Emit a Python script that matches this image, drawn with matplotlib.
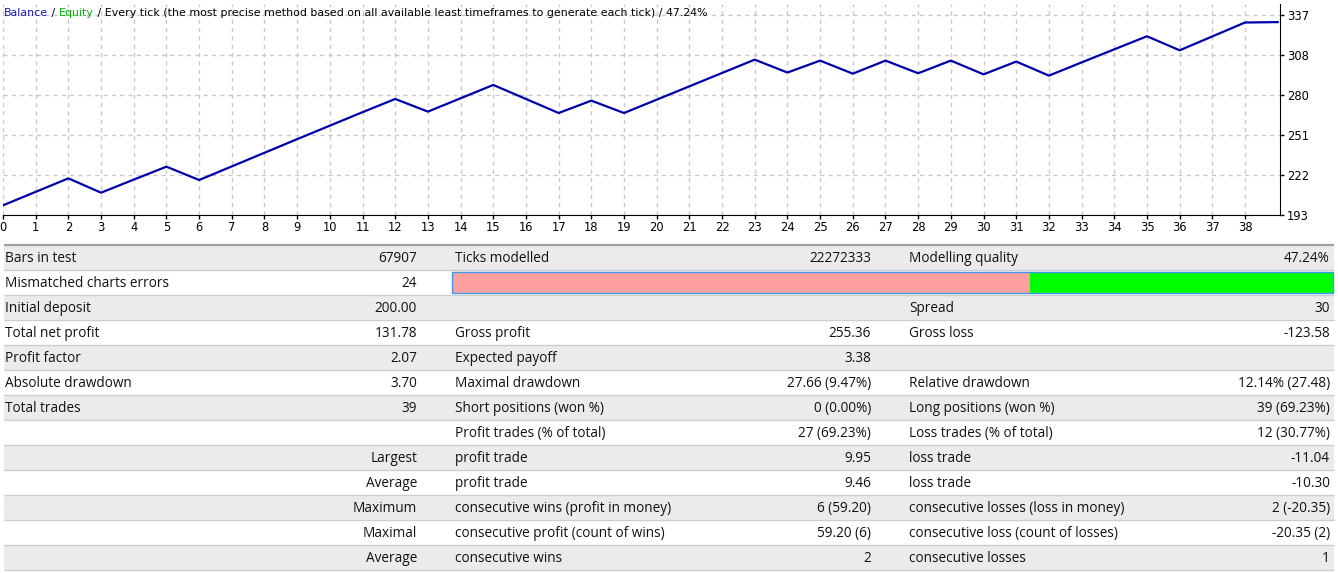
import matplotlib.pyplot as plt
import numpy as np

# Balance after each closed trade
trade_no = list(range(40))
balance = [200.0, 209.7, 219.4, 209.1, 218.5, 227.8, 218.2, 228.0, 237.8, 247.6,
           257.3, 267.0, 276.5, 267.4, 277.0, 286.6, 276.5, 266.4, 275.3, 266.4,
           276.0, 285.6, 295.2, 304.8, 295.5, 304.1, 294.7, 304.1, 295.0, 304.1,
           294.2, 303.4, 293.3, 302.8, 312.2, 321.6, 311.5, 321.5, 331.5, 331.78]
x_tick_labels = [str(i) for i in range(39)]
y_tick_labels = ['193', '222', '251', '280', '308', '337']
y_low, y_high = 193.4, 336.9

title_parts = ['Balance', ' / ', 'Equity',
               ' / Every tick (the most precise method based on all available least timeframes to generate each tick) / 47.24%']
title_colors = ['#1414b4', '#000000', '#00b400', '#000000']

# Report table: label / value for each of the three column groups
col1_label = ['Bars in test', 'Mismatched charts errors', 'Initial deposit', 'Total net profit',
              'Profit factor', 'Absolute drawdown', 'Total trades', '', '', '', '', '', '']
col1_value = ['67907', '24', '200.00', '131.78', '2.07', '3.70', '39', '',
              'Largest', 'Average', 'Maximum', 'Maximal', 'Average']
col2_label = ['Ticks modelled', '', '', 'Gross profit', 'Expected payoff', 'Maximal drawdown',
              'Short positions (won %)', 'Profit trades (% of total)', 'profit trade', 'profit trade',
              'consecutive wins (profit in money)', 'consecutive profit (count of wins)',
              'consecutive wins']
col2_value = ['22272333', '', '', '255.36', '3.38', '27.66 (9.47%)', '0 (0.00%)', '27 (69.23%)',
              '9.95', '9.46', '6 (59.20)', '59.20 (6)', '2']
col3_label = ['Modelling quality', '', 'Spread', 'Gross loss', '', 'Relative drawdown',
              'Long positions (won %)', 'Loss trades (% of total)', 'loss trade', 'loss trade',
              'consecutive losses (loss in money)', 'consecutive loss (count of losses)',
              'consecutive losses']
col3_value = ['47.24%', '', '30', '-123.58', '', '12.14% (27.48)', '39 (69.23%)', '12 (30.77%)',
              '-11.04', '-10.30', '2 (-20.35)', '-20.35 (2)', '1']
quality_bar_split = 0.656  # share of the quality bar drawn in red

W, H = 1338, 573
fig = plt.figure(figsize=(W / 100, H / 100), dpi=100)


def px_rect(x0, y0, x1, y1):
    return [x0 / W, 1 - y1 / H, (x1 - x0) / W, (y1 - y0) / H]


# ---- table (pixel coordinates, y down) ----
tab = fig.add_axes([0, 0, 1, 1])
tab.set_xlim(0, W)
tab.set_ylim(H, 0)
tab.axis('off')

row_top, row_h = 245, 25
n_rows = len(col1_label)
centers = [row_top + row_h * (i + 0.5) for i in range(n_rows)]
row_colors = ['#ebebeb' if i % 2 == 0 else '#ffffff' for i in range(n_rows)]
tab.barh(centers, 1330, left=4, height=row_h, color=row_colors, zorder=1)
tab.hlines([row_top + row_h * (i + 1) for i in range(n_rows)], 4, 1334,
           color='#cdcdcd', lw=1, zorder=2)
tab.hlines(row_top, 4, 1334, color='#a0a0a0', lw=1.6, zorder=2)

# modelling quality bar
bar_y = centers[1]
bar_x0, bar_x1 = 452, 1333
bar_w = bar_x1 - bar_x0
tab.barh([bar_y, bar_y], [bar_w * quality_bar_split, bar_w * (1 - quality_bar_split)],
         left=[bar_x0, bar_x0 + bar_w * quality_bar_split], height=21,
         color=['#ffa0a0', '#00ff00'], zorder=3)
tab.barh(bar_y, bar_w, left=bar_x0, height=21, fill=False, edgecolor='#3c9bf0', lw=1, zorder=4)

tfont = dict(family='Open Sans', fontsize=9.8, color='#111111', va='baseline', zorder=5)
for i in range(n_rows):
    y = centers[i] + 4.5
    tab.text(5, y, col1_label[i], ha='left', **tfont)
    tab.text(417, y, col1_value[i], ha='right', **tfont)
    tab.text(455, y, col2_label[i], ha='left', **tfont)
    tab.text(871, y, col2_value[i], ha='right', **tfont)
    tab.text(909, y, col3_label[i], ha='left', **tfont)
    tab.text(1330, y, col3_value[i], ha='right', **tfont)

# ---- balance chart ----
ax = fig.add_axes(px_rect(3, 4.3, 1280, 214.5))
ax.plot(trade_no, balance, color='#0000aa', lw=1.6, zorder=3)
ax.set_xlim(0.115, 39.07)
ax.set_ylim(y_low, y_low + (y_high - y_low) * 210.2 / 199.5)
ax.set_xticks(range(len(x_tick_labels)), x_tick_labels)
ax.set_yticks(np.linspace(y_low, y_high, len(y_tick_labels)), y_tick_labels)
ax.yaxis.tick_right()
ax.grid(True, color='#c8c8c8', ls=(0, (3, 3)), lw=1)
ax.spines['left'].set_visible(False)
ax.spines['top'].set_visible(False)
ax.tick_params(axis='both', length=3, width=1, labelsize=8.3, pad=2,
               labelfontfamily='DejaVu Sans')
ax.set_facecolor('none')

# multi-coloured title line
prev = fig.text(4 / W, 1 - 13 / H, title_parts[0], color=title_colors[0],
                fontsize=7.9, family='DejaVu Sans', va='center', ha='left')
for part, c in zip(title_parts[1:], title_colors[1:]):
    prev = ax.annotate(part, xy=(1, 0.5), xycoords=prev, va='center', ha='left',
                       color=c, fontsize=7.9, family='DejaVu Sans')

fig.savefig('out.png', dpi=100)
